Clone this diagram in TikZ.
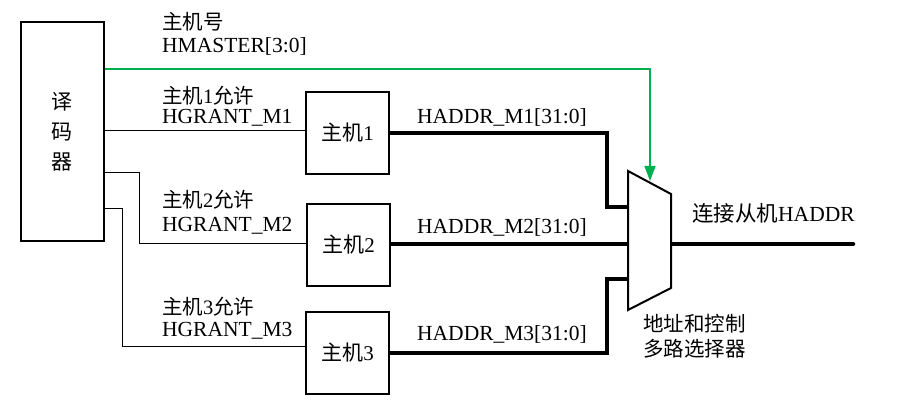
\documentclass[tikz,border=0pt]{standalone}
\usepackage{fontspec}
\setmainfont{Liberation Serif}
\newfontfamily\cjk{Noto Sans CJK SC}
\usetikzlibrary{calc}
\usetikzlibrary{arrows.meta}
\definecolor{selgreen}{RGB}{0,176,80}

\begin{document}
\begin{tikzpicture}[x=1pt,y=-1pt,
    box/.style={draw,line width=2pt,minimum width=83pt,minimum height=82pt,inner sep=0pt,font=\cjk\fontsize{21}{24}\selectfont},
    wire/.style={line width=1pt},
    bus/.style={line width=4.5pt},
    lbl/.style={anchor=base west,inner sep=0pt,font=\fontsize{21.5}{24}\selectfont},
    clbl/.style={lbl,font=\cjk\fontsize{20.5}{24}\selectfont}]
\useasboundingbox (0,0) rectangle (898,414);

    % 译码器和三个主机
    \node[draw,line width=2pt,minimum width=83pt,minimum height=219pt,inner sep=0pt,align=center,font=\cjk\fontsize{21}{30}\selectfont] (dec) at (62.5,131.5) {译\\码\\器};
    \node[box] (m1) at (347.5,133) {主机{\rmfamily 1}};
    \node[box] (m2) at (348.5,245) {主机{\rmfamily 2}};
    \node[box] (m3) at (347.5,353) {主机{\rmfamily 3}};

    % 多路选择器的角点和端口
    \coordinate (mux-nw) at (628,171);
    \coordinate (mux-ne) at (671,194);
    \coordinate (mux-se) at (671,288);
    \coordinate (mux-sw) at (628,310);
    \coordinate (mux-s) at (650,181);
    \coordinate (in1) at (628,207);
    \coordinate (in2) at (628,244);
    \coordinate (in3) at (628,279);
    \coordinate (out) at (671,244);
    \coordinate (slave) at (853,244);

\coordinate (g1) at (200,131);
\coordinate (g2) at (139,173);
\coordinate (g3) at (122,209);
\coordinate (sel) at (650,69);

% 允许信号
\draw[wire] (dec.east |- g1) -- (m1.west |- g1);
\draw[wire] (dec.east |- g2) -- (g2) |- ($(m2.west)+(0,-1)$);
\draw[wire] (dec.east |- g3) -- (g3) |- ($(m3.west)+(0,-6)$);

% 主机号
\draw[selgreen,line width=1.5pt,-{Triangle[width=11pt,length=15pt]}] (dec.east |- sel) -- (sel) -- (mux-s);

% 地址总线
\draw[bus] (m1.east) -| ($(in1)+(-21,0)$) -- (in1);
\draw[bus] (m2.east |- in2) -- (in2);
\draw[bus] (m3.east) -| ($(in3)+(-21,0)$) -- (in3);
\draw[bus,line cap=round] (out) -- (slave);

\draw[line width=2pt,fill=white] (mux-nw) -- (mux-ne) -- (mux-se) -- (mux-sw) -- cycle;

% 标注
\node[clbl] (l-sel) at (162,30) {主机号};
\node[lbl] (l-hmaster) at (162,53) {HMASTER[3:0]};
\node[clbl] (l-ok1) at (162,104) {主机{\rmfamily 1}允许};
\node[lbl] (l-grant1) at (162,124) {HGRANT\_M1};
\node[clbl] (l-ok2) at (162,208) {主机{\rmfamily 2}允许};
\node[lbl] (l-grant2) at (162,232) {HGRANT\_M2};
\node[clbl] (l-ok3) at (162,315) {主机{\rmfamily 3}允许};
\node[lbl] (l-grant3) at (162,337) {HGRANT\_M3};
\node[lbl] (l-addr1) at (417,124) {HADDR\_M1[31:0]};
\node[lbl] (l-addr2) at (417,234) {HADDR\_M2[31:0]};
\node[lbl] (l-addr3) at (417,341) {HADDR\_M3[31:0]};
\node[lbl] (l-slave) at (692,222) {{\cjk 连接从机}HADDR};
\node[clbl] (l-mux1) at (643,332) {地址和控制};
\node[clbl] (l-mux2) at (643,356) {多路选择器};

\end{tikzpicture}
\end{document}
